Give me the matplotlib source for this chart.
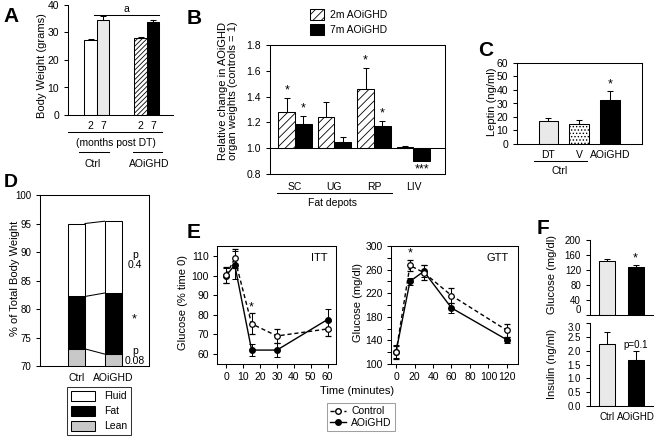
import matplotlib
matplotlib.use("Agg")
import matplotlib.pyplot as plt
from matplotlib.lines import Line2D
from matplotlib.patches import Patch
import numpy as np

plt.rcParams['font.family'] = ['Liberation Sans', 'DejaVu Sans']
plt.rcParams['font.size'] = 7.5
plt.rcParams['hatch.linewidth'] = 0.6
plt.rcParams['axes.linewidth'] = 0.75
plt.rcParams['xtick.major.width'] = 0.75
plt.rcParams['ytick.major.width'] = 0.75
plt.rcParams['xtick.major.size'] = 3
plt.rcParams['ytick.major.size'] = 3
plt.rcParams['xtick.labelsize'] = 7.5
plt.rcParams['ytick.labelsize'] = 7.5

# ---------------- data ----------------
# A: body weight
A_labels = ['2', '7', '2', '7']
A_vals = [27.4, 34.6, 27.9, 33.7]
A_err = [0.3, 1.5, 0.4, 1.0]

# B: relative organ weights
B_cats = ['SC', 'UG', 'RP', 'LIV']
B_2m = [1.28, 1.24, 1.46, 1.01]
B_2m_err = [0.11, 0.12, 0.16, 0.01]
B_7m = [1.19, 1.05, 1.17, 0.90]
B_7m_err = [0.06, 0.04, 0.04, 0.0]
B_2m_sig = ['*', '', '*', '']
B_7m_sig = ['*', '', '*', '***']

# C: leptin
C_cats = ['DT', 'V', 'AOiGHD']
C_vals = [16.8, 14.8, 32.8]
C_err = [2.5, 3.2, 6.4]

# D: body composition (% of total body weight)
D_groups = ['Ctrl', 'AOiGHD']
D_lean = [73.0, 72.1]
D_fat = [9.2, 10.7]
D_fluid = [12.8, 12.6]

# E: ITT / GTT
t_itt = [0, 5, 15, 30, 60]
itt_ctrl = [100.3, 108.8, 75.4, 69.2, 72.8]
itt_ctrl_err = [4.0, 4.8, 5.4, 3.4, 3.8]
itt_aoi = [100.0, 105.5, 62.0, 62.0, 77.6]
itt_aoi_err = [4.0, 7.0, 3.0, 3.5, 5.5]

t_gtt = [0, 15, 30, 60, 120]
gtt_ctrl = [120, 267, 255, 216, 157]
gtt_ctrl_err = [11, 10, 12, 13, 11]
gtt_aoi = [121, 240, 257, 195, 141]
gtt_aoi_err = [11, 6, 10, 8, 5]

# F: fasting glucose / insulin
F_groups = ['Ctrl', 'AOiGHD']
F_glu = [145, 129]
F_glu_err = [4, 3.5]
F_ins = [2.25, 1.65]
F_ins_err = [0.42, 0.33]

# ---------------- helpers ----------------
W, H = 662, 444
fig = plt.figure(figsize=(W / 100, H / 100), dpi=100)


def axpx(x0, y0, x1, y1):
    return fig.add_axes([x0 / W, 1 - y1 / H, (x1 - x0) / W, (y1 - y0) / H])


def ftext(x, y, s, **kw):
    kw.setdefault('ha', 'center')
    kw.setdefault('va', 'center')
    fig.text(x / W, 1 - y / H, s, **kw)


def fline(x0, x1, y, color='black', lw=0.75):
    fig.add_artist(Line2D([x0 / W, x1 / W], [1 - y / H, 1 - y / H],
                          color=color, lw=lw, transform=fig.transFigure))


def up_err(ax, x, y, e):
    ax.errorbar(x, y, yerr=[np.zeros(len(e)), e], fmt='none', ecolor='black',
                elinewidth=0.75, capsize=2, capthick=0.75, zorder=1)


LW = 0.75
LIGHT = '#e9e9e9'
LEAN = '#c8c8c8'

# ---------------- panel A ----------------
axA = axpx(68, 5, 173, 115)
A_pos = np.array([0, 1, 4, 5])
A_face = ['white', LIGHT, 'white', 'black']
A_hatch = [None, None, '///////', None]
for p, v, fc, h in zip(A_pos, A_vals, A_face, A_hatch):
    axA.bar(p, v, width=1, color=fc, edgecolor='black', linewidth=LW, hatch=h, zorder=2)
up_err(axA, A_pos, A_vals, A_err)
axA.set_xlim(-1.8, 6.6)
axA.set_ylim(0, 40)
axA.set_yticks([0, 10, 20, 30, 40])
axA.set_xticks(A_pos)
axA.set_xticklabels(A_labels)
axA.tick_params(axis='x', length=0, pad=4)
axA.spines['top'].set_visible(False)
axA.spines['right'].set_visible(False)
axA.plot([0.3, 5.5], [36.4, 36.4], color='black', lw=LW, clip_on=False)
axA.text(2.9, 36.8, 'a', ha='center', va='bottom')
fline(68, 162, 132)
ftext(116, 143, '(months post DT)')
fline(79, 109, 152)
fline(133, 162, 152)
ftext(93, 164, 'Ctrl')
ftext(149, 164, 'AOiGHD')
ftext(42, 66, 'Body Weight (grams)', rotation=90, fontsize=8)
ftext(11, 16, 'A', fontsize=15, fontweight='bold')

# ---------------- panel B ----------------
axB = axpx(270, 45, 445, 174)
bpos = np.arange(len(B_cats))
bw = 0.42
for p, v in zip(bpos, B_2m):
    axB.bar(p - bw / 2, v - 1, bottom=1, width=bw, color='white', edgecolor='black',
            linewidth=LW, hatch='////', zorder=2)
for p, v in zip(bpos, B_7m):
    axB.bar(p + bw / 2, v - 1, bottom=1, width=bw, color='black', edgecolor='black',
            linewidth=LW, zorder=2)
for p, v, e in zip(bpos - bw / 2, B_2m, B_2m_err):
    if e > 0:
        up_err(axB, [p], [v], [e])
for p, v, e in zip(bpos + bw / 2, B_7m, B_7m_err):
    if e > 0:
        up_err(axB, [p], [v], [e])
for p, v, e, s in zip(bpos - bw / 2, B_2m, B_2m_err, B_2m_sig):
    if s:
        axB.text(p, v + e + 0.01, s, ha='center', va='bottom', fontsize=9)
for p, v, e, s in zip(bpos + bw / 2, B_7m, B_7m_err, B_7m_sig):
    if s and v >= 1:
        axB.text(p, v + e + 0.01, s, ha='center', va='bottom', fontsize=9)
    elif s:
        axB.text(p, v - 0.015, s, ha='center', va='top', fontsize=9)
axB.axhline(1.0, color='black', lw=LW, zorder=3)
axB.set_xlim(-0.633, 3.80)
axB.set_ylim(0.8, 1.8)
axB.set_yticks([0.8, 1.0, 1.2, 1.4, 1.6, 1.8])
axB.set_yticklabels(['%.1f' % v for v in [0.8, 1.0, 1.2, 1.4, 1.6, 1.8]])
axB.set_xticks(bpos)
axB.set_xticklabels(B_cats)
axB.tick_params(axis='x', length=0, pad=6)
fline(277, 392, 193)
ftext(333, 203, 'Fat depots')
ftext(228, 91, 'Relative change in AOiGHD\norgan weights (controls = 1)',
      rotation=90, fontsize=8, linespacing=1.1)
ftext(194, 18, 'B', fontsize=15, fontweight='bold')
legB = fig.legend(handles=[Patch(facecolor='white', edgecolor='black', hatch='////', lw=LW),
                           Patch(facecolor='black', edgecolor='black', lw=LW)],
                  labels=['2m AOiGHD', '7m AOiGHD'], loc='upper left',
                  bbox_to_anchor=(303 / W, 1 - 2 / H), frameon=False,
                  handlelength=1.35, handleheight=1.25, handletextpad=0.5,
                  labelspacing=0.4, borderpad=0.2, fontsize=7.5)

# ---------------- panel C ----------------
axC = axpx(517, 63, 642, 144)
cpos = np.arange(len(C_cats))
C_face = [LIGHT, 'white', 'black']
C_hatch = [None, '.....', None]
for p, v, fc, h in zip(cpos, C_vals, C_face, C_hatch):
    axC.bar(p, v, width=0.63, color=fc, edgecolor='black', linewidth=LW, hatch=h, zorder=2)
up_err(axC, cpos, C_vals, C_err)
axC.text(2, C_vals[2] + C_err[2] + 0.5, '*', ha='center', va='bottom', fontsize=9)
axC.set_xlim(-1.02, 3.04)
axC.set_ylim(0, 60)
axC.set_yticks(range(0, 61, 10))
axC.set_xticks(cpos)
axC.set_xticklabels(C_cats)
axC.tick_params(axis='x', length=0, pad=4)
fline(534, 587, 161)
ftext(560, 171, 'Ctrl')
ftext(492, 102, 'Leptin (ng/ml)', rotation=90, fontsize=8)
ftext(486, 50, 'C', fontsize=15, fontweight='bold')

# ---------------- panel D ----------------
axD = axpx(40, 195, 149, 366)
dpos = np.arange(len(D_groups))
dw = 0.466
lean = np.array(D_lean)
fat = np.array(D_fat)
fluid = np.array(D_fluid)
axD.bar(dpos, lean, width=dw, color=LEAN, edgecolor='black', lw=LW, zorder=2)
axD.bar(dpos, fat, bottom=lean, width=dw, color='black', edgecolor='black', lw=LW, zorder=2)
axD.bar(dpos, fluid, bottom=lean + fat, width=dw, color='white', edgecolor='black', lw=LW, zorder=2)
for tops in [lean, lean + fat, lean + fat + fluid]:
    axD.plot([dpos[0] + dw / 2, dpos[1] - dw / 2], [tops[0], tops[1]], color='black', lw=LW, zorder=3)
axD.set_xlim(-1.0, 1.986)
axD.set_ylim(70, 100)
axD.set_yticks(range(70, 101, 5))
axD.tick_params(axis='y', labelsize=7)
axD.set_xticks(dpos)
axD.set_xticklabels(D_groups)
axD.tick_params(axis='x', length=0, pad=5)
ftext(135, 260, 'p\n0.4', linespacing=1.0)
ftext(134, 319, '*', fontsize=9)
ftext(135, 356, 'p\n0.08', linespacing=1.0)
ftext(15, 278, '% of Total Body Weight', rotation=90, fontsize=8)
ftext(11, 182, 'D', fontsize=14, fontweight='bold')
legD = fig.legend(handles=[Patch(facecolor='white', edgecolor='black', lw=LW),
                           Patch(facecolor='black', edgecolor='black', lw=LW),
                           Patch(facecolor=LEAN, edgecolor='black', lw=LW)],
                  labels=['Fluid', 'Fat', 'Lean'], loc='upper left',
                  bbox_to_anchor=(62 / W, 1 - 382 / H), frameon=True, fancybox=False,
                  edgecolor='black', handlelength=2.3, handleheight=1.05,
                  handletextpad=0.9, labelspacing=0.45, borderpad=0.35, fontsize=7.5)
legD.get_frame().set_linewidth(LW)

# ---------------- panel E ----------------
def line_panel(ax, t, yc, ec, ya, ea):
    ax.errorbar(t, ya, yerr=ea, color='black', lw=1.0, ls='-', marker='o', ms=4,
                mfc='black', mec='black', ecolor='black', elinewidth=0.75,
                capsize=2, capthick=0.75, zorder=3)
    ax.errorbar(t, yc, yerr=ec, color='black', lw=1.0, ls=(0, (3, 2)), marker='o', ms=4,
                mfc='white', mec='black', mew=0.9, ecolor='black', elinewidth=0.75,
                capsize=2, capthick=0.75, zorder=4)


axE1 = axpx(217, 246, 336, 364)
line_panel(axE1, t_itt, itt_ctrl, itt_ctrl_err, itt_aoi, itt_aoi_err)
axE1.set_xlim(-5.5, 65)
axE1.set_ylim(54.9, 115.1)
axE1.set_yticks(range(60, 111, 10))
axE1.set_xticks(range(0, 61, 10))
axE1.tick_params(pad=3)
axE1.text(15, 84, '*', ha='center', va='center', fontsize=9)
axE1.text(0.93, 0.9, 'ITT', transform=axE1.transAxes, ha='right', va='center', fontsize=8)

axE2 = axpx(391, 246, 518, 364)
line_panel(axE2, t_gtt, gtt_ctrl, gtt_ctrl_err, gtt_aoi, gtt_aoi_err)
axE2.set_xlim(-5.5, 132)
axE2.set_ylim(100, 300)
axE2.set_yticks(range(100, 301, 40))
axE2.set_yticks(range(100, 301, 20), minor=True)
axE2.tick_params(axis='y', which='minor', length=3, width=0.75)
axE2.set_xticks(range(0, 121, 20))
axE2.tick_params(pad=3)
axE2.text(15, 288, '*', ha='center', va='center', fontsize=9)
axE2.text(0.93, 0.9, 'GTT', transform=axE2.transAxes, ha='right', va='center', fontsize=8)

ftext(183, 302, 'Glucose (% time 0)', rotation=90, fontsize=8)
ftext(358, 302, 'Glucose (mg/dl)', rotation=90, fontsize=8)
ftext(357, 391, 'Time (minutes)', fontsize=8)
ftext(194, 232, 'E', fontsize=15, fontweight='bold')
legE = fig.legend(handles=[Line2D([], [], color='black', lw=1.0, ls=(0, (3, 2)), marker='o',
                                  ms=4, mfc='white', mec='black'),
                           Line2D([], [], color='black', lw=1.0, marker='o', ms=4,
                                  mfc='black', mec='black')],
                  labels=['Control', 'AOiGHD'], loc='upper left',
                  bbox_to_anchor=(322 / W, 1 - 398 / H), frameon=True, fancybox=False,
                  edgecolor='#888888', handlelength=1.5, handletextpad=0.5,
                  labelspacing=0.15, borderpad=0.3, fontsize=7.5)
legE.get_frame().set_linewidth(LW)

# ---------------- panel F ----------------
fpos = np.arange(len(F_groups))
fw = 0.56
F_face = [LIGHT, 'black']

axF1 = axpx(590, 240, 653, 315)
for p, v, fc in zip(fpos, F_glu, F_face):
    axF1.bar(p, v, width=fw, color=fc, edgecolor='black', lw=LW, zorder=2)
up_err(axF1, fpos, F_glu, F_glu_err)
axF1.text(1, F_glu[1] + F_glu_err[1] + 3, '*', ha='center', va='bottom', fontsize=9)
axF1.set_xlim(-0.6, 1.61)
axF1.set_ylim(0, 200)
axF1.set_yticks(range(0, 201, 40))
axF1.tick_params(axis='y', labelsize=7)
axF1.set_xticks([])
axF1.spines['top'].set_visible(False)
axF1.spines['right'].set_visible(False)

axF2 = axpx(590, 323, 653, 406)
for p, v, fc in zip(fpos, F_ins, F_face):
    axF2.bar(p, v, width=fw, color=fc, edgecolor='black', lw=LW, zorder=2)
up_err(axF2, fpos, F_ins, F_ins_err)
axF2.text(1, F_ins[1] + F_ins_err[1] + 0.05, 'p=0.1', ha='center', va='bottom', fontsize=7)
axF2.set_xlim(-0.6, 1.61)
axF2.set_ylim(0, 3.0)
axF2.set_yticks(np.arange(0, 3.01, 0.5))
axF2.set_yticklabels(['%.1f' % v for v in np.arange(0, 3.01, 0.5)])
axF2.tick_params(axis='y', labelsize=7)
axF2.set_xticks(fpos)
axF2.set_xticklabels(F_groups, fontsize=7)
axF2.tick_params(axis='x', length=0, pad=4)
axF2.spines['top'].set_visible(False)
axF2.spines['right'].set_visible(False)
# keep the glucose "0" and insulin "3.0" tick labels apart
axF1.get_yticklabels()[0].set_va('bottom')
axF2.get_yticklabels()[-1].set_va('top')

ftext(552, 275, 'Glucose (mg/dl)', rotation=90, fontsize=8)
ftext(552, 364, 'Insulin (ng/ml)', rotation=90, fontsize=8)
ftext(543, 228, 'F', fontsize=15, fontweight='bold')

fig.savefig('out.png', dpi=100)
